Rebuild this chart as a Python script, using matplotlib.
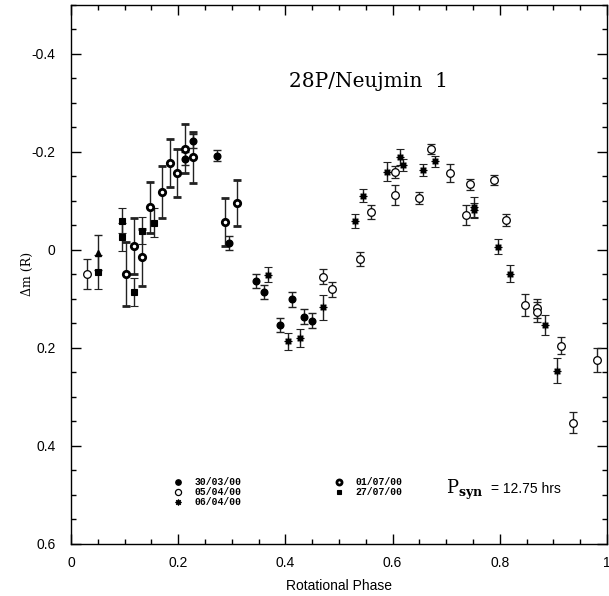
import matplotlib
matplotlib.use("Agg")
import matplotlib.pyplot as plt
from matplotlib.lines import Line2D
from matplotlib.ticker import MultipleLocator

plt.rcParams["mathtext.fontset"] = "custom"
plt.rcParams["mathtext.rm"] = "DejaVu Serif"
plt.rcParams["mathtext.bf"] = "DejaVu Serif:bold"

# 30/03/00
ph_3003 = [0.213, 0.228, 0.273, 0.295, 0.346, 0.361, 0.390, 0.413, 0.435, 0.450]
dm_3003 = [-0.186, -0.222, -0.192, -0.014, 0.064, 0.087, 0.154, 0.101, 0.137, 0.145]
er_3003 = [0.014, 0.015, 0.012, 0.014, 0.014, 0.014, 0.015, 0.015, 0.015, 0.015]

# 05/04/00
ph_0504 = [0.029, 0.471, 0.487, 0.539, 0.560, 0.605, 0.605, 0.649, 0.671, 0.708,
           0.737, 0.745, 0.789, 0.812, 0.848, 0.870, 0.870, 0.914, 0.937, 0.981]
dm_0504 = [0.050, 0.055, 0.081, 0.019, -0.077, -0.158, -0.111, -0.105, -0.206, -0.157,
           -0.071, -0.133, -0.142, -0.061, 0.113, 0.120, 0.127, 0.196, 0.353, 0.225]
er_0504 = [0.031, 0.016, 0.016, 0.015, 0.014, 0.012, 0.020, 0.012, 0.010, 0.018,
           0.020, 0.012, 0.011, 0.012, 0.022, 0.020, 0.020, 0.017, 0.021, 0.025]

# 06/04/00
ph_0604 = [0.368, 0.405, 0.427, 0.471, 0.530, 0.545, 0.590, 0.613, 0.620, 0.656,
           0.679, 0.752, 0.752, 0.797, 0.819, 0.885, 0.907]
dm_0604 = [0.051, 0.187, 0.180, 0.118, -0.058, -0.110, -0.159, -0.189, -0.173, -0.163,
           -0.180, -0.087, -0.080, -0.006, 0.049, 0.154, 0.247]
er_0604 = [0.015, 0.017, 0.018, 0.025, 0.014, 0.013, 0.019, 0.017, 0.012, 0.012,
           0.012, 0.020, 0.015, 0.015, 0.017, 0.020, 0.025]

# 01/07/00
ph_0107 = [0.103, 0.118, 0.132, 0.147, 0.169, 0.184, 0.198, 0.213, 0.228, 0.287, 0.310]
dm_0107 = [0.050, -0.008, 0.016, -0.087, -0.117, -0.176, -0.157, -0.206, -0.189, -0.057, -0.095]
er_0107 = [0.065, 0.057, 0.058, 0.052, 0.053, 0.049, 0.049, 0.050, 0.052, 0.049, 0.047]

# 27/07/00
ph_2707 = [0.051, 0.095, 0.095, 0.118, 0.132, 0.154]
dm_2707 = [0.046, -0.059, -0.026, 0.086, -0.039, -0.055]
er_2707 = [0.035, 0.025, 0.029, 0.029, 0.027, 0.029]

# extra point (no legend entry)
ph_tri = [0.051]
dm_tri = [0.006]
er_tri = [0.035]

star = (8, 1, 0)
styles = {
    "30/03/00": dict(marker="o", ms=4.8, mfc="k", mec="k", mew=1.0),
    "05/04/00": dict(marker="o", ms=5.5, mfc="white", mec="k", mew=0.9),
    "06/04/00": dict(marker=star, ms=5.5, mfc="k", mec="k", mew=0.8),
    "01/07/00": dict(marker="o", ms=4.6, mfc="white", mec="k", mew=2.0),
    "27/07/00": dict(marker="s", ms=4.0, mfc="k", mec="k", mew=0.8),
}

fig = plt.figure(figsize=(6.09, 5.96), dpi=100)
ax = fig.add_axes([0.1166, 0.0878, 0.880, 0.9044])

eb = dict(ls="none", ecolor="#222222", elinewidth=1.0, capsize=2.6, capthick=1.0)
ax.errorbar(ph_tri, dm_tri, yerr=er_tri, marker="^", ms=5, mfc="k", mec="k", **eb)
for lab, ph, dm, er in [("01/07/00", ph_0107, dm_0107, er_0107),
                        ("27/07/00", ph_2707, dm_2707, er_2707),
                        ("05/04/00", ph_0504, dm_0504, er_0504),
                        ("06/04/00", ph_0604, dm_0604, er_0604),
                        ("30/03/00", ph_3003, dm_3003, er_3003)]:
    ax.errorbar(ph, dm, yerr=er, **styles[lab], **eb)

ax.set_xlim(0, 1)
ax.set_ylim(0.6, -0.5)
ax.set_yticks([0.6, 0.4, 0.2, 0, -0.2, -0.4])
ax.set_yticklabels(["0.6", "0.4", "0.2", "0", "-0.2", "-0.4"])
ax.set_xticks([0, 0.2, 0.4, 0.6, 0.8, 1.0])
ax.set_xticklabels(["0", "0.2", "0.4", "0.6", "0.8", "1"])
ax.xaxis.set_minor_locator(MultipleLocator(0.05))
ax.yaxis.set_minor_locator(MultipleLocator(0.05))
ax.tick_params(which="both", direction="in", top=True, right=True, width=1.0)
ax.tick_params(which="major", length=7)
ax.tick_params(which="minor", length=3.5)
ax.tick_params(axis="x", pad=9, labelsize=10)
ax.tick_params(axis="y", pad=11, labelsize=10)
for lbl in ax.get_xticklabels() + ax.get_yticklabels():
    lbl.set_family("Liberation Sans")
for sp in ax.spines.values():
    sp.set_linewidth(1.0)

ax.set_xlabel("Rotational Phase", family="Liberation Sans", fontsize=10, labelpad=6)
ax.set_ylabel("Δm (R)", family="DejaVu Serif", fontsize=9)
ax.yaxis.set_label_coords(-0.069, 0.5)

ax.text(0.556, 0.857, "28P/Neujmin  1", transform=ax.transAxes, ha="center", va="center",
        family="DejaVu Serif", fontsize=14.5)

ax.text(0.70, 0.100, r"$\mathrm{P}_{\mathbf{syn}}$", transform=ax.transAxes,
        ha="left", va="center", fontsize=13)
ax.text(0.783, 0.102, "= 12.75 hrs", transform=ax.transAxes, ha="left", va="center",
        family="Liberation Sans", fontsize=10)


def handle(lab):
    s = dict(styles[lab])
    s["ms"] = s["ms"] * 0.8
    return Line2D([], [], ls="none", **s)


legprops = dict(family="Liberation Mono", weight="bold", size=7)
leg_kw = dict(loc="upper left", frameon=False, borderpad=0, labelspacing=0.0,
              handlelength=1.0, handletextpad=1.2, prop=legprops)
labs1 = ["30/03/00", "05/04/00", "06/04/00"]
labs2 = ["01/07/00", "27/07/00"]
leg1 = ax.legend([handle(l) for l in labs1], labs1, bbox_to_anchor=(0.182, 0.132), **leg_kw)
ax.add_artist(leg1)
ax.legend([handle(l) for l in labs2], labs2, bbox_to_anchor=(0.481, 0.132), **leg_kw)

fig.savefig("out.png", dpi=100)
